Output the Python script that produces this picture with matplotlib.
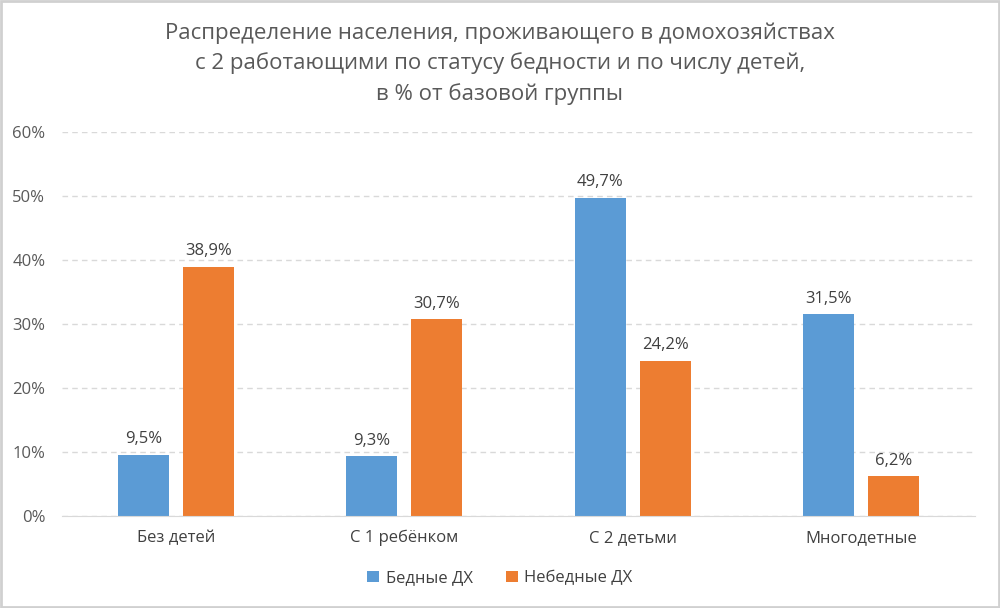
import numpy as np
import matplotlib
matplotlib.use("Agg")
import matplotlib.pyplot as plt
from matplotlib.patches import Rectangle

plt.rcParams['font.family'] = ['Open Sans', 'DejaVu Sans']

categories = ["Без детей", "С 1 ребёнком", "С 2 детьми", "Многодетные"]
poor = [9.5, 9.3, 49.7, 31.5]
nonpoor = [38.9, 30.7, 24.2, 6.2]
series_names = ["Бедные ДХ", "Небедные ДХ"]
yticks = [0, 10, 20, 30, 40, 50, 60]

blue = "#5B9BD5"
orange = "#ED7D31"
grey = "#595959"

fig = plt.figure(figsize=(10, 6.08), dpi=100)
ax = fig.add_axes([0.062, 0.1513, 0.913, 0.632])

x = np.arange(len(categories))
w = 0.223
off = w / 2 + 0.031
b1 = ax.bar(x - off, poor, w, color=blue, label=series_names[0], zorder=3)
b2 = ax.bar(x + off, nonpoor, w, color=orange, label=series_names[1], zorder=3)

for bars, vals in ((b1, poor), (b2, nonpoor)):
    for r, v in zip(bars, vals):
        ax.text(r.get_x() + r.get_width() / 2, v + 1.2, f"{v:.1f}%".replace(".", ","),
                ha="center", va="bottom", fontsize=12, color="#404040")

ax.set_xlim(-0.5, 3.5)
ax.set_ylim(0, 60)
ax.set_yticks(yticks)
ax.set_yticklabels([f"{t}%" for t in yticks], fontsize=12, color=grey)
ax.set_xticks(x)
ax.set_xticklabels(categories, fontsize=12, color="#404040")
ax.tick_params(axis="both", length=0, pad=10)
ax.tick_params(axis="y", pad=12)
ax.grid(axis="y", color="#D9D9D9", linestyle=(0, (4, 3)), linewidth=1, zorder=0)
for s in ("top", "right", "left"):
    ax.spines[s].set_visible(False)
ax.spines["bottom"].set_color("#D9D9D9")
ax.spines["bottom"].set_zorder(4)

fig.text(0.5, 0.963, "Распределение населения, проживающего в домохозяйствах\n"
         "с 2 работающими по статусу бедности и по числу детей,\n"
         "в % от базовой группы",
         ha="center", va="top", fontsize=16, color=grey, linespacing=1.5)

fig.legend(handles=[b1, b2], labels=series_names, loc="center", bbox_to_anchor=(0.5, 0.049),
           ncol=2, frameon=False, fontsize=12, handlelength=0.7, handleheight=0.7,
           columnspacing=2.0, handletextpad=0.4, labelcolor="#404040")

fig.patches.append(Rectangle((0.001, 0.001), 0.998, 0.997, transform=fig.transFigure,
                             fill=False, edgecolor="#D0D0D0", linewidth=2))

fig.savefig("out.png", dpi=100)
